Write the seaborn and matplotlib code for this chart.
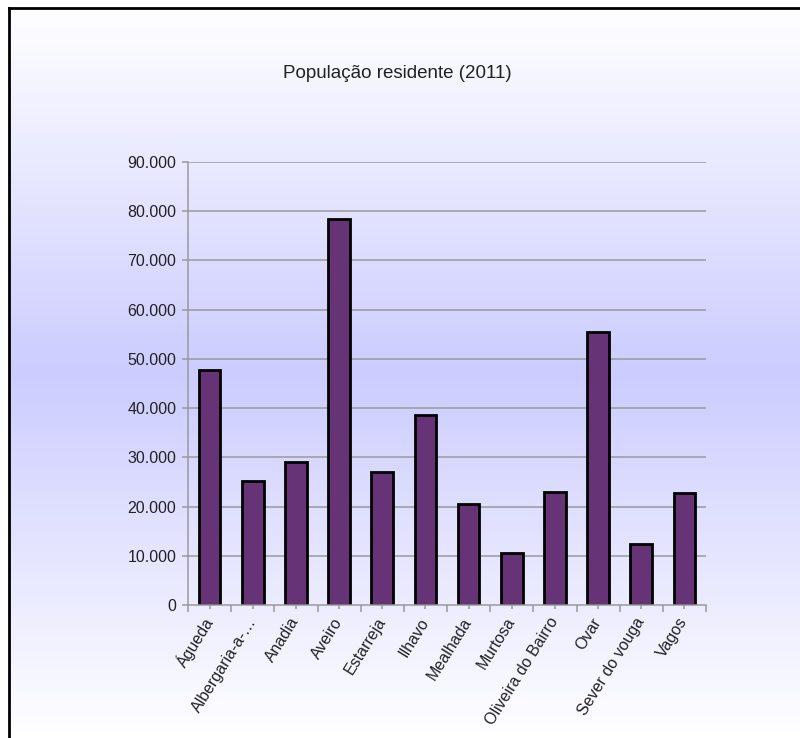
import numpy as np
import pandas as pd
import matplotlib
matplotlib.use("Agg")
import matplotlib.pyplot as plt
from matplotlib.lines import Line2D
from matplotlib.ticker import FuncFormatter, FixedLocator
import seaborn as sns

# Resident population by municipality, 2011 census
municipios = ["Águeda", "Albergaria-a-…", "Anadia", "Aveiro", "Estarreja", "Ilhavo",
              "Mealhada", "Murtosa", "Oliveira do Bairro", "Ovar", "Sever do vouga", "Vagos"]
populacao = [47729, 25252, 29150, 78450, 26997, 38598,
             20428, 10585, 23028, 55398, 12356, 22851]
titulo = "População residente (2011)"
y_ticks = [0, 10000, 20000, 30000, 40000, 50000, 60000, 70000, 80000, 90000]

df = pd.DataFrame({"municipio": municipios, "populacao": populacao})

sns.set_theme(style="white")
plt.rcParams["font.family"] = ["Liberation Sans", "DejaVu Sans"]

W, H = 800, 738
fig = plt.figure(figsize=(W / 100, H / 100), dpi=100)
fig.patch.set_facecolor("white")

# Vertical axial gradient: white at top and bottom, lavender in the middle
bg = fig.add_axes([0, 0, 1, 1], zorder=-10)
bg.set_xlim(0, 1)
bg.set_ylim(0, 1)
bg.axis("off")
n = 512
t = np.linspace(0, 1, n)
w = np.abs(t - 0.5) * 2  # 0 in the middle, 1 at the edges
top = np.array([255, 255, 255]) / 255
mid = np.array([204, 204, 255]) / 255
grad = mid[None, :] * (1 - w[:, None]) + top[None, :] * w[:, None]
grad = grad[:, None, :]
x0 = 9 / W
y1 = 1 - 8 / H
bg.imshow(grad, extent=[x0, 1, 0, y1], aspect="auto", origin="upper",
          interpolation="bilinear")

# Frame on the left and top edges
fig.add_artist(Line2D([x0, x0], [0, y1], transform=fig.transFigure,
                      color="black", lw=2, solid_capstyle="projecting"))
fig.add_artist(Line2D([x0, 1], [y1, y1], transform=fig.transFigure,
                      color="black", lw=2, solid_capstyle="projecting"))

ax = fig.add_axes([188 / W, 1 - 605 / H, 518 / W, 443 / H])
ax.set_facecolor("none")

sns.barplot(data=df, x="municipio", y="populacao", ax=ax, color="#663377",
            saturation=1, width=0.5, edgecolor="black", linewidth=2, zorder=2)

ax.set_xlim(-0.5, len(municipios) - 0.5)
ax.set_ylim(0, 90000)
ax.set_xlabel("")
ax.set_ylabel("")

grid_c = "#9a9a9a"
for v in y_ticks[1:]:
    ax.axhline(v, color=grid_c, lw=1.1, zorder=0.5)

for side in ["top", "right"]:
    ax.spines[side].set_visible(False)
for side in ["left", "bottom"]:
    ax.spines[side].set_color(grid_c)
    ax.spines[side].set_linewidth(1.1)

ax.yaxis.set_major_locator(FixedLocator(y_ticks))
ax.yaxis.set_major_formatter(FuncFormatter(lambda v, p: f"{int(v):,}".replace(",", ".")))
ax.tick_params(axis="y", direction="out", length=4.5, width=1.1, color=grid_c,
               labelsize=11.5, labelcolor="#222222", pad=4, left=True)

ax.xaxis.set_minor_locator(FixedLocator(np.arange(-0.5, len(municipios), 1.0)))
ax.tick_params(axis="x", which="minor", direction="out", length=5, width=1.1,
               color=grid_c, bottom=True)
ax.tick_params(axis="x", which="major", direction="inout", length=6, width=1.1,
               color=grid_c, bottom=True, labelsize=11.5, labelcolor="#222222", pad=7)
for lbl in ax.get_xticklabels():
    lbl.set_rotation(58)
    lbl.set_ha("right")
    lbl.set_va("center")
    lbl.set_rotation_mode("anchor")

fig.text(397 / W, 1 - 74 / H, titulo, ha="center", va="center",
         fontsize=13.5, color="#222222")

fig.savefig("out.png", dpi=100, facecolor=fig.get_facecolor())
